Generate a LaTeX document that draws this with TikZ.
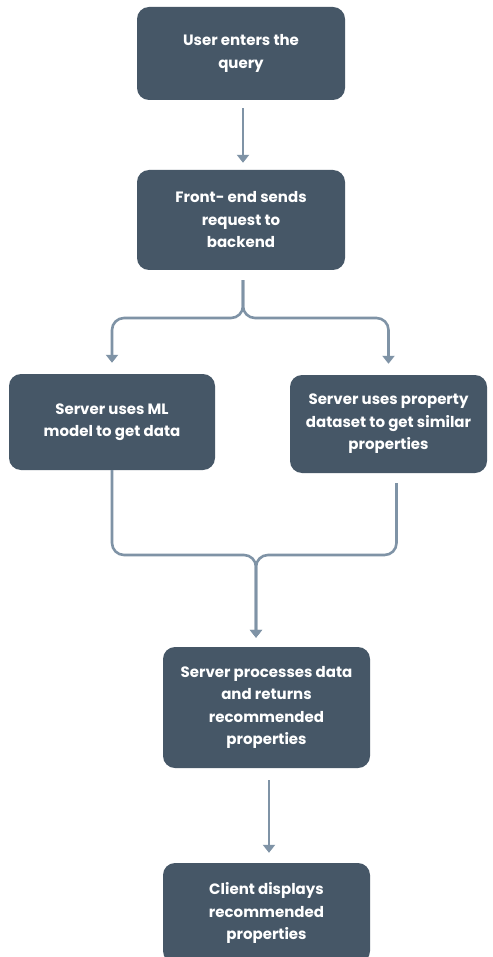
\documentclass[tikz,border=0pt]{standalone}
\usepackage{fontspec}
\setmainfont{Poppins}
\usetikzlibrary{arrows.meta}
\definecolor{boxfill}{HTML}{465767}
\definecolor{conncol}{HTML}{7F93A6}
\tikzset{
  flowbox/.style={rectangle, rounded corners=12pt, fill=boxfill, text=white,
    font=\bfseries\fontsize{15pt}{22.5pt}\selectfont, align=center, inner sep=0pt},
  conn/.style={draw=conncol, line width=2.6pt},
  arr/.style={conn, -{Triangle[width=12pt,length=8pt]}},
}
\begin{document}
\begin{tikzpicture}[x=1pt,y=-1pt]
\useasboundingbox (0,0) rectangle (492,957);
\clip (0,0) rectangle (492,957);
\fill[white] (0,0) rectangle (492,957);

\node[flowbox, minimum width=208pt, minimum height=93pt] (b1) at (241,53.5) {User enters the\\query};
\node[flowbox, minimum width=208pt, minimum height=100pt] (b2) at (241,220) {Front- end sends\\request to\\backend};
\node[flowbox, minimum width=206pt, minimum height=96pt] (b3) at (112,422) {Server uses ML\\model to get data};
\node[flowbox, minimum width=197pt, minimum height=98pt] (b4) at (388.5,424) {Server uses property\\dataset to get similar\\properties};
\node[flowbox, minimum width=207pt, minimum height=121pt] (b5) at (266.5,707.5) {Server processes data\\and returns\\recommended\\properties};
\node[flowbox, minimum width=207pt, minimum height=100pt] (b6) at (266.5,913) {Client displays\\recommended\\properties};

\coordinate (j1) at (243,318);
\coordinate (m1) at (256,555);

% b1 -> b2
\draw[arr] ([xshift=2pt,yshift=-8pt]b1.south) -- ([xshift=2pt,yshift=7pt]b2.north);

% split b2 -> b3, b4
\draw[arr, rounded corners=12pt] ([xshift=2pt,yshift=-10pt]b2.south) -- (j1) -- (b3.north |- j1) -- ([yshift=11pt]b3.north);
\draw[arr, rounded corners=12pt] ([xshift=2pt,yshift=-10pt]b2.south) -- (j1) -- (b4.north |- j1) -- ([yshift=11pt]b4.north);

% merge b3, b4 -> b5
\draw[arr, rounded corners=12pt] (b3.south) -- (b3.south |- m1) -- (m1) -- ([yshift=9pt]m1 |- b5.north);
\draw[arr, rounded corners=12pt] ([xshift=8pt,yshift=-10pt]b4.south) -- ([xshift=8pt]b4.south |- m1) -- (m1) -- ([yshift=9pt]m1 |- b5.north);

% b5 -> b6
\draw[arr] ([xshift=2.5pt,yshift=-12pt]b5.south) -- ([xshift=2.5pt,yshift=10pt]b6.north);
\end{tikzpicture}
\end{document}
